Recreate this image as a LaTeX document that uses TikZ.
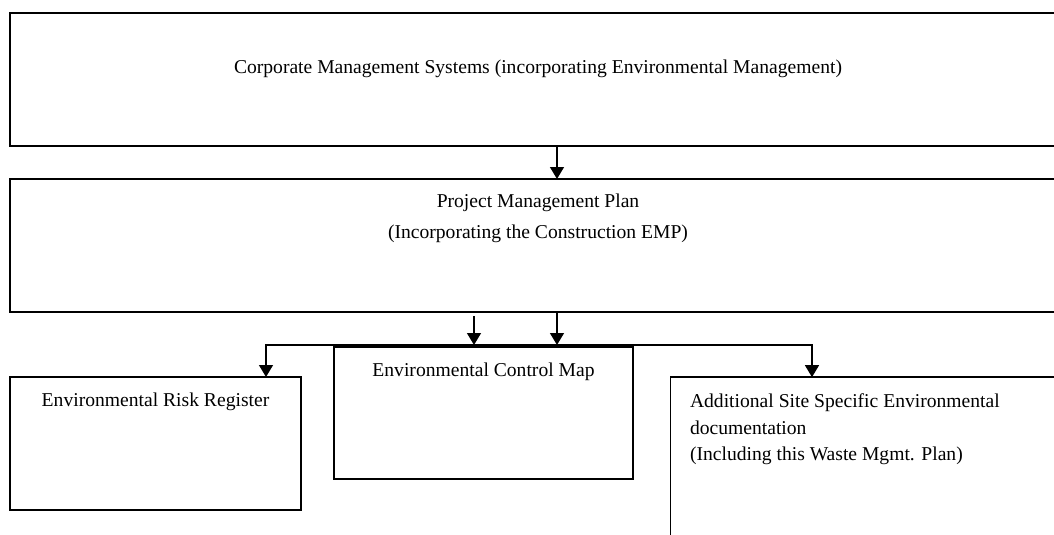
\documentclass[tikz,border=0pt]{standalone}
\usepackage{fontspec}
\setmainfont{Liberation Serif}
\usetikzlibrary{arrows.meta}
\begin{document}
\begin{tikzpicture}[x=0.75pt,y=-0.75pt,
  box/.style={draw=black,line width=1.1pt,rectangle,inner sep=0pt,outer sep=0pt,fill=white},
  txt/.style={inner sep=0pt,outer sep=0pt,anchor=base,font=\fontsize{14.7}{18}\selectfont},
  txtl/.style={txt,anchor=base west},
  arr/.style={line width=1.1pt,-{Triangle[length=9pt,width=10.5pt]}},
  arrb/.style={line width=1.1pt,{Triangle[length=9pt,width=10.5pt]}-{Triangle[length=9pt,width=10.5pt]}}]
\useasboundingbox (0,0) rectangle (1054,535);
\clip (0,0) rectangle (1054,535);
% boxes
\node[box,minimum width=792pt,minimum height=99.75pt] (corp) at (538,79.5) {};
\node[box,minimum width=792pt,minimum height=99.75pt] (pmp) at (538,245.5) {};
\node[box,minimum width=218.25pt,minimum height=99.75pt] (risk) at (155.5,443.5) {};
\node[box,minimum width=224.25pt,minimum height=99pt] (ctrl) at (483.5,413) {};
\node[box,minimum width=297pt,minimum height=140pt] (add) at (868.5,470.5) {};
% texts
\node[txt] (t1) at (538,74) {Corporate Management Systems (incorporating Environmental Management)};
\node[txt] (t2) at (538,207.5) {Project Management Plan};
\node[txt] (t3) at (538,238.5) {(Incorporating the Construction EMP)};
\node[txt] (t4) at (155.5,406) {Environmental Risk Register};
\node[txt] (t5) at (483.5,376) {Environmental Control Map};
\node[txtl] (t6) at (690,407.5) {Additional Site Specific Environmental};
\node[txtl] (t7) at (690,434) {documentation};
\node[txtl] (t8) at (690,460.5) {(Including this Waste Mgmt. Plan)};
% connectors
\coordinate (ax) at (557,0);
\coordinate (free) at (474,316);
\coordinate (bl) at (266,345);
\coordinate (br) at (812,345);
\draw[arr] (ax |- corp.south) -- (ax |- pmp.north);
\draw[arr] (ax |- pmp.south) -- (ax |- bl);
\draw[arr] (free) -- (free |- bl);
\draw[arrb] (bl |- risk.north) -- (bl) -- (br) -- (br |- add.north);
\end{tikzpicture}
\end{document}
